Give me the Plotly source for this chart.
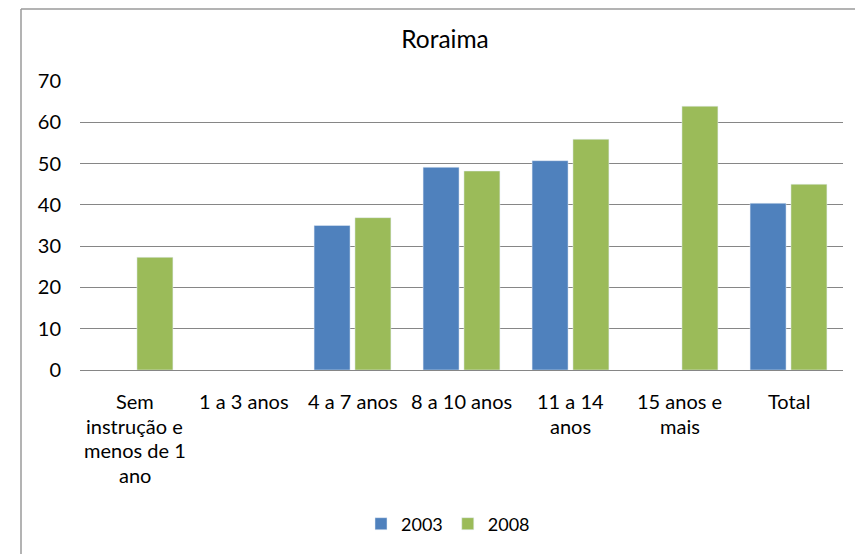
import plotly.graph_objects as go

categories = ["Sem instrução e menos de 1 ano", "1 a 3 anos", "4 a 7 anos",
              "8 a 10 anos", "11 a 14 anos", "15 anos e mais", "Total"]
tick_labels = ["Sem<br>instrução e<br>menos de 1<br>ano", "1 a 3 anos", "4 a 7 anos",
               "8 a 10 anos", "11 a 14<br>anos", "15 anos e<br>mais", "Total"]
values_2003 = [None, None, 35.0, 49.1, 50.7, None, 40.4]
values_2008 = [27.3, None, 36.9, 48.2, 55.9, 63.9, 45.0]
y_ticks = [0, 10, 20, 30, 40, 50, 60, 70]

FONT = "Lato"
OFF = 8  # page body margin
PAGE_W, PAGE_H = 863, 554
W, H = PAGE_W - OFF, PAGE_H - OFF
# plot area in page pixels: x 80..843, y 81..370.5
L = 80 - OFF
T = 81 - OFF
R = W - (843 - OFF)
B = H - (370.5 - OFF)
plot_w = W - L - R
plot_h = H - T - B

fig = go.Figure()
fig.add_trace(go.Bar(name="2003", x=categories, y=values_2003, marker_color="#4F81BD"))
fig.add_trace(go.Bar(name="2008", x=categories, y=values_2008, marker_color="#9BBB59"))

annotations = []
for cat, lab in zip(categories, tick_labels):
    for i, line in enumerate(lab.split("<br>")):
        annotations.append(dict(
            x=cat, xref="x", y=0, yref="paper", yanchor="middle", xanchor="center",
            yshift=-(31 + i * 24.5), text=line, showarrow=False,
            font=dict(family=FONT, size=20, color="#000000")))

# chart border (left and top visible); top placed at the figure's top edge
bx = (21 - 80) / plot_w
by = (370.5 - 8.8) / plot_h
shapes = [
    dict(type="line", xref="paper", yref="paper", x0=bx, x1=2, y0=by, y1=by,
         line=dict(color="#9a9a9a", width=1.5)),
    dict(type="line", xref="paper", yref="paper", x0=bx, x1=bx, y0=by, y1=-2,
         line=dict(color="#9a9a9a", width=1.5)),
]

fig.update_layout(
    width=W, height=H,
    margin=dict(l=L, r=R, t=T, b=B),
    paper_bgcolor="white", plot_bgcolor="white",
    font=dict(family=FONT, color="#000000"),
    title=dict(text="Roraima", xref="container", x=(445 - OFF) / W, xanchor="center",
               yref="container", y=1 - (39 - OFF) / H, yanchor="middle",
               font=dict(family=FONT, size=24.5, color="#000000")),
    barmode="group", bargap=0.25, bargroupgap=0.12,
    showlegend=True,
    legend=dict(orientation="h", xref="container", x=(448 - OFF) / W, xanchor="center",
                yref="container", y=1 - (524 - OFF) / H, yanchor="middle",
                font=dict(family=FONT, size=18, color="#000000")),
    annotations=annotations,
    shapes=shapes,
)
fig.update_xaxes(showticklabels=False, showline=True, linecolor="#868686", linewidth=1,
                 showgrid=False, ticks="")
fig.update_yaxes(range=[0, 70], tickvals=y_ticks, showgrid=True, gridcolor="#868686",
                 gridwidth=1, zeroline=False, showline=False, ticks="",
                 ticklabelstandoff=18,
                 tickfont=dict(family=FONT, size=20, color="#000000"))

fig.write_html("out.html")
